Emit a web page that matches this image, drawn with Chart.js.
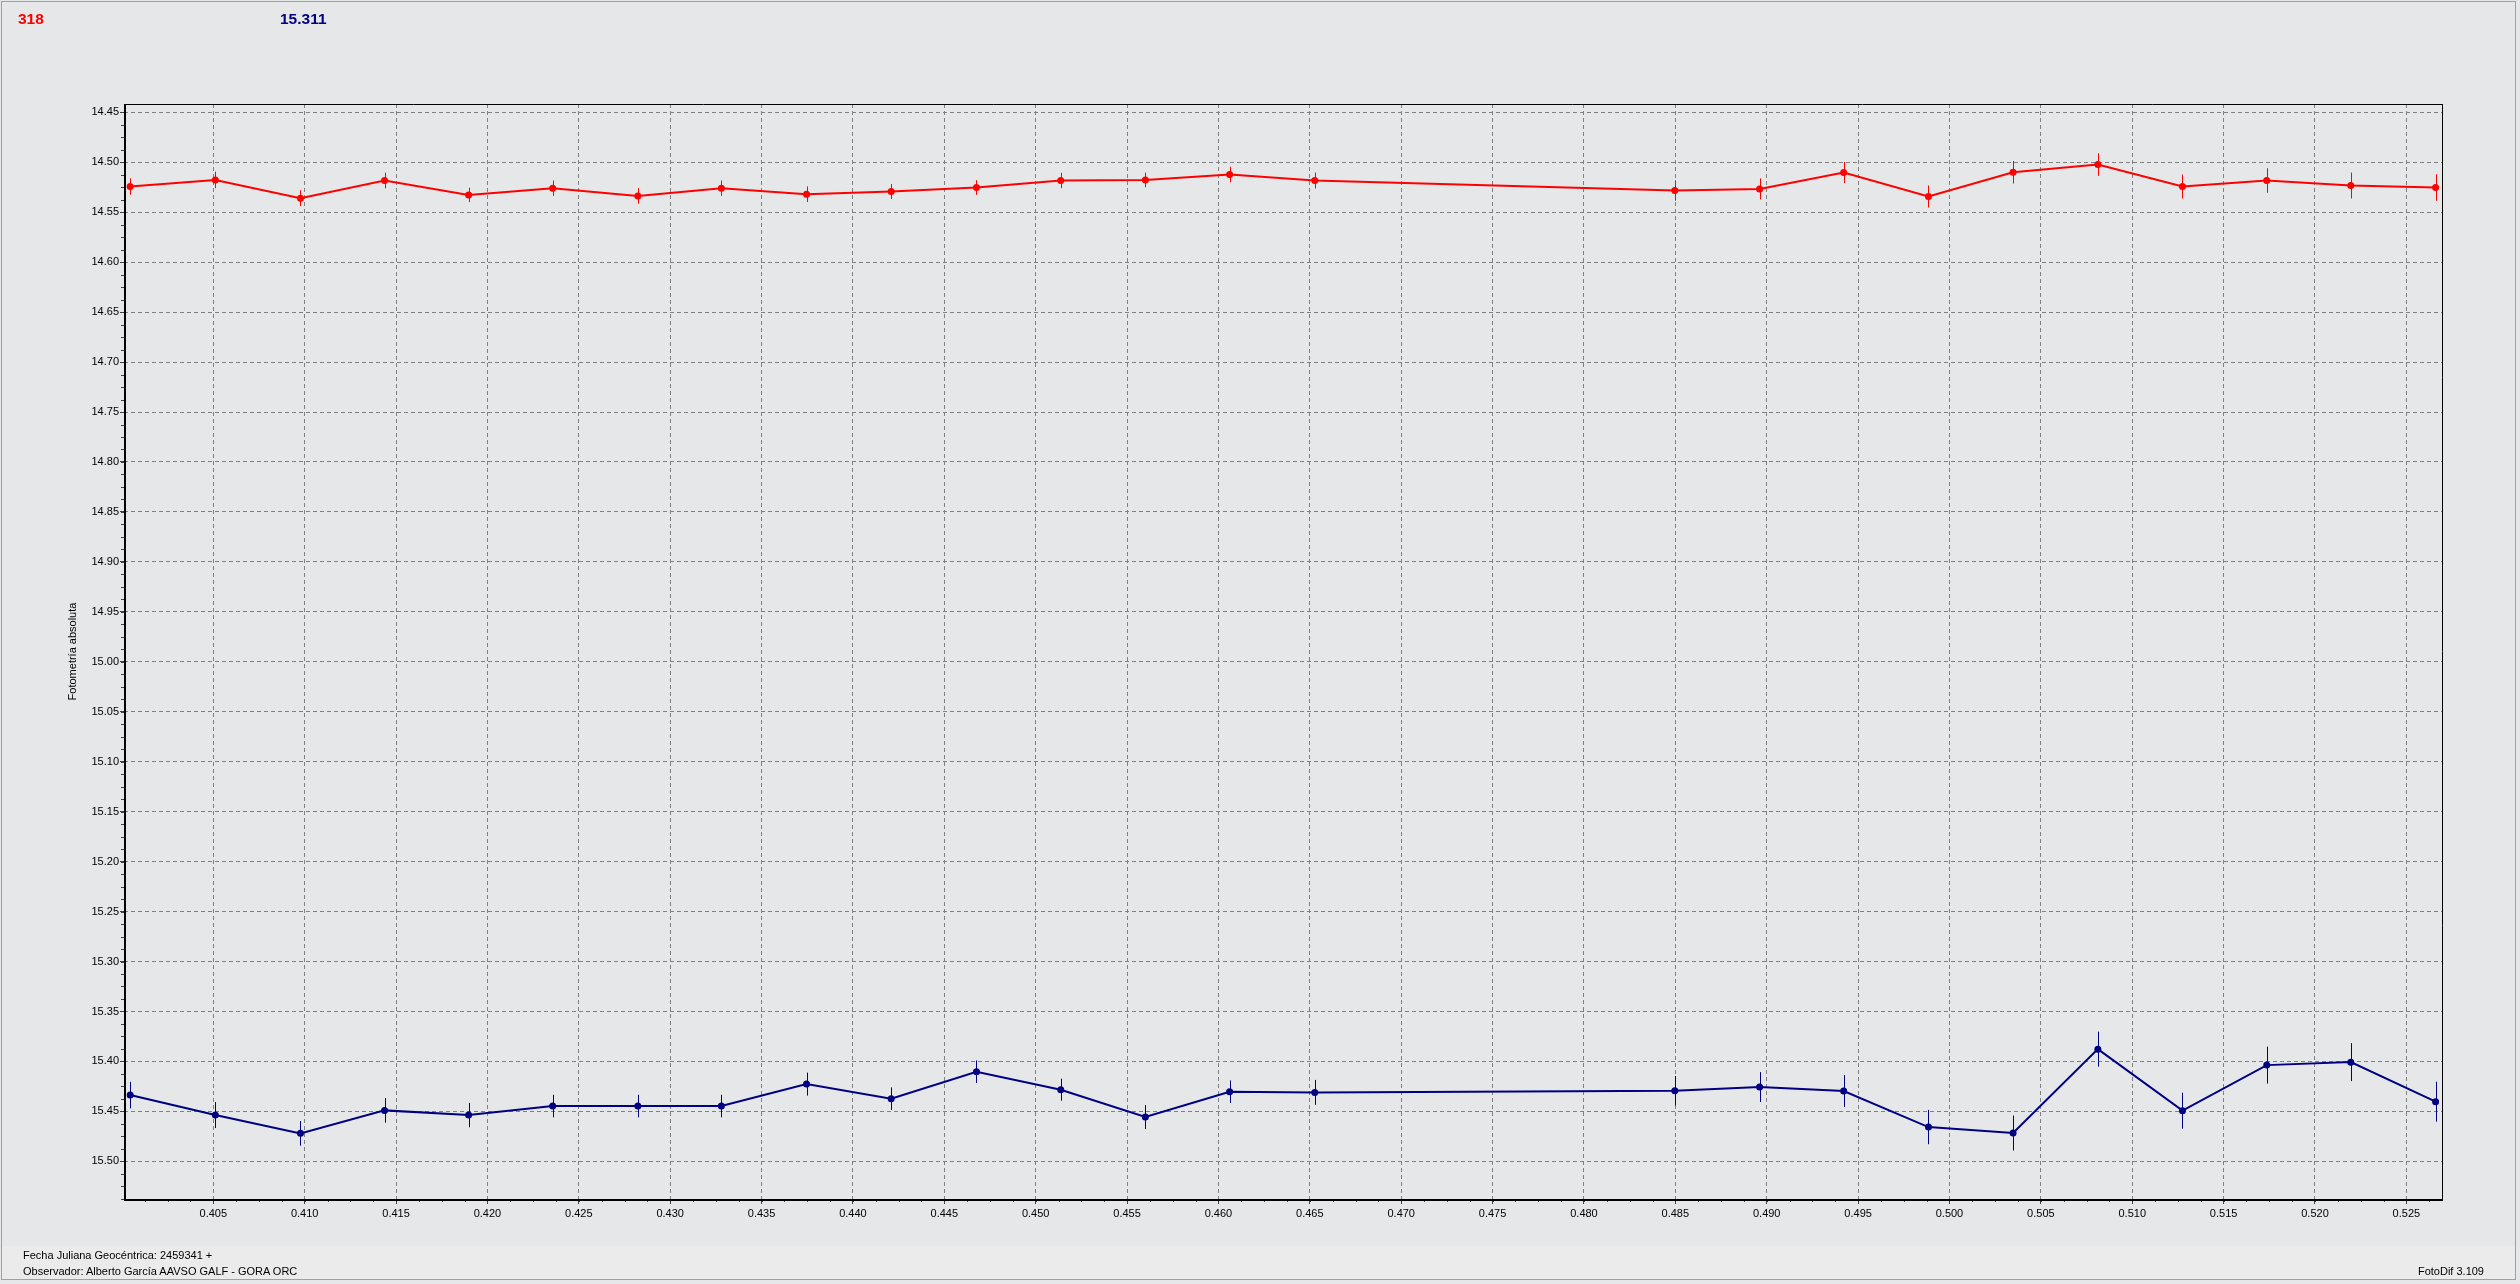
<!DOCTYPE html>
<html>
<head>
<meta charset="utf-8">
<script src="https://cdn.jsdelivr.net/npm/chart.js@4.4.1/dist/chart.umd.min.js"></script>
<style>
  html, body { margin:0; padding:0; background:#E6E7E9; width:2520px; height:1284px; overflow:hidden; font-family:"Liberation Sans", Arial, sans-serif; }
  #wrap { position:absolute; left:0; top:0; width:2520px; height:1284px; }
  .txt { position:absolute; white-space:nowrap; }
  #frame { position:absolute; left:1px; top:1px; width:2515px; height:1279px; border:1px solid #A0A0A0; box-sizing:border-box; pointer-events:none; }
  #status { position:absolute; left:2px; top:1246px; width:2514px; height:34px; background:#EBEBEC; }
</style>
</head>
<body>
<div id="status"></div>
<div id="wrap"><canvas id="c" width="2520" height="1284"></canvas></div>
<div class="txt" style="left:18px; top:10px; font-size:15.5px; line-height:18px; font-weight:bold; color:#FF0000;">318</div>
<div class="txt" style="left:280px; top:10px; font-size:15.5px; line-height:18px; font-weight:bold; color:#000080;">15.311</div>
<div class="txt" style="left:23px; top:1249px; font-size:11px; line-height:13px; color:#000;">Fecha Juliana Geocéntrica: 2459341 +</div>
<div class="txt" style="left:23px; top:1265px; font-size:11px; line-height:13px; color:#000;">Observador: Alberto García AAVSO GALF - GORA ORC</div>
<div class="txt" style="right:36px; top:1265px; font-size:11px; line-height:13px; color:#000;">FotoDif 3.109</div>
<div id="frame"></div>
<script>
// ---- data (JD fraction after 2459341) ----
const jd = [0.40045, 0.40511, 0.40977, 0.41437, 0.41897, 0.42357, 0.42823, 0.43280, 0.43746, 0.44209,
            0.44676, 0.45137, 0.45600, 0.46061, 0.46527, 0.48497, 0.48961, 0.49421, 0.49885, 0.50348,
            0.50812, 0.51275, 0.51736, 0.52196, 0.52660];
const redMag = [14.5243, 14.5177, 14.5360, 14.5183, 14.5327, 14.5260, 14.5337, 14.5260, 14.5320, 14.5293,
                14.5253, 14.5183, 14.5177, 14.5123, 14.5183, 14.5283, 14.5267, 14.5103, 14.5343, 14.5100,
                14.5023, 14.5243, 14.5183, 14.5233, 14.5253];
const redErr = [0.0082, 0.0083, 0.0080, 0.0078, 0.0072, 0.0077, 0.0078, 0.0077, 0.0078, 0.0075,
                0.0073, 0.0077, 0.0073, 0.0078, 0.0080, 0.0102, 0.0105, 0.0105, 0.0110, 0.0113,
                0.0113, 0.0120, 0.0123, 0.0130, 0.0133];
const blueMag = [15.4337, 15.4537, 15.4720, 15.4490, 15.4537, 15.4447, 15.4447, 15.4447, 15.4227, 15.4373,
                 15.4103, 15.4283, 15.4557, 15.4303, 15.4310, 15.4293, 15.4257, 15.4297, 15.4657, 15.4717,
                 15.3877, 15.4493, 15.4037, 15.4007, 15.4403];
const blueErr = [0.0133, 0.0130, 0.0123, 0.0123, 0.0122, 0.0113, 0.0113, 0.0113, 0.0115, 0.0113,
                 0.0113, 0.0110, 0.0120, 0.0113, 0.0125, 0.0147, 0.0150, 0.0160, 0.0172, 0.0175,
                 0.0175, 0.0180, 0.0185, 0.0190, 0.0200];
const xTicks = [0.405, 0.410, 0.415, 0.420, 0.425, 0.430, 0.435, 0.440, 0.445, 0.450, 0.455, 0.460,
                0.465, 0.470, 0.475, 0.480, 0.485, 0.490, 0.495, 0.500, 0.505, 0.510, 0.515, 0.520, 0.525];
const yTicks = [14.45, 14.50, 14.55, 14.60, 14.65, 14.70, 14.75, 14.80, 14.85, 14.90, 14.95, 15.00,
                15.05, 15.10, 15.15, 15.20, 15.25, 15.30, 15.35, 15.40, 15.45, 15.50];
const xRange = [0.400113, 0.52695];
const yRange = [14.4417, 15.5377];
const redColor = '#FF0000';
const blueColor = '#000080';

const toPts = (ys) => jd.map((x, i) => ({x: x, y: ys[i]}));

const errPlugin = {
  id: 'errbars',
  beforeDatasetsDraw(chart) {
    const ctx = chart.ctx, xs = chart.scales.x, ys = chart.scales.y;
    const sets = [[redMag, redErr, redColor], [blueMag, blueErr, blueColor]];
    ctx.save();
    ctx.lineWidth = 1;
    for (const [m, e, col] of sets) {
      ctx.strokeStyle = col;
      ctx.beginPath();
      for (let i = 0; i < jd.length; i++) {
        const px = Math.round(xs.getPixelForValue(jd[i])) + 0.5;
        ctx.moveTo(px, ys.getPixelForValue(m[i] - e[i]));
        ctx.lineTo(px, ys.getPixelForValue(m[i] + e[i]));
      }
      ctx.stroke();
    }
    ctx.restore();
  },
  afterDraw(chart) {
    const ctx = chart.ctx, a = chart.chartArea, xs = chart.scales.x, ys = chart.scales.y;
    ctx.save();
    ctx.strokeStyle = '#000';
    // thin top / right frame
    ctx.lineWidth = 1;
    ctx.beginPath();
    ctx.moveTo(a.left, a.top + 0.5); ctx.lineTo(a.right, a.top + 0.5);
    ctx.moveTo(a.right + 0.5, a.top); ctx.lineTo(a.right + 0.5, a.bottom);
    ctx.stroke();
    // minor ticks
    ctx.strokeStyle = '#404040';
    ctx.beginPath();
    const xStep = 0.00125, yStep = 0.0125;
    for (let k = Math.ceil(xRange[0] / xStep); k * xStep <= xRange[1]; k++) {
      const px = Math.round(xs.getPixelForValue(k * xStep)) + 0.5;
      ctx.moveTo(px, a.bottom); ctx.lineTo(px, a.bottom + 3);
    }
    for (let k = Math.ceil(yRange[0] / yStep); k * yStep <= yRange[1]; k++) {
      const py = Math.round(ys.getPixelForValue(k * yStep)) + 0.5;
      ctx.moveTo(a.left - 3, py); ctx.lineTo(a.left, py);
    }
    ctx.stroke();
    // thick left / bottom axes
    ctx.strokeStyle = '#000';
    ctx.lineWidth = 2;
    ctx.beginPath();
    ctx.moveTo(a.left + 1, a.top); ctx.lineTo(a.left + 1, a.bottom + 1);
    ctx.moveTo(a.left, a.bottom + 1); ctx.lineTo(a.right + 1, a.bottom + 1);
    ctx.stroke();
    ctx.restore();
  }
};

Chart.defaults.font.family = '"Liberation Sans", Arial, sans-serif';
Chart.defaults.font.size = 11;
Chart.defaults.color = '#000';

new Chart(document.getElementById('c'), {
  type: 'line',
  data: {
    datasets: [
      { label: '318', data: toPts(redMag), borderColor: redColor, backgroundColor: redColor,
        borderWidth: 2, pointRadius: 3.5, pointHoverRadius: 3.5, pointBorderWidth: 0, tension: 0, fill: false },
      { label: '15.311', data: toPts(blueMag), borderColor: blueColor, backgroundColor: blueColor,
        borderWidth: 2, pointRadius: 3.5, pointHoverRadius: 3.5, pointBorderWidth: 0, tension: 0, fill: false }
    ]
  },
  options: {
    responsive: false,
    animation: false,
    devicePixelRatio: 1,
    layout: { padding: { left: 62, top: 104, right: 78, bottom: 45 } },
    plugins: { legend: { display: false }, tooltip: { enabled: false }, title: { display: false } },
    scales: {
      x: {
        type: 'linear',
        min: xRange[0], max: xRange[1],
        afterBuildTicks: (s) => { s.ticks = xTicks.map(v => ({ value: v })); },
        afterFit: (s) => { s.height = 40; },
        ticks: { autoSkip: false, maxRotation: 0, padding: 3, callback: (v) => Number(v).toFixed(3), color: '#000' },
        grid: { color: '#808080', lineWidth: 1, drawTicks: true, tickLength: 5, tickColor: '#404040', tickBorderDash: [] },
        border: { display: false, dash: [4, 3] }
      },
      y: {
        type: 'linear',
        reverse: true,
        min: yRange[0], max: yRange[1],
        afterBuildTicks: (s) => { s.ticks = yTicks.map(v => ({ value: v })); },
        afterFit: (s) => { s.width = 62; },
        ticks: { autoSkip: false, padding: 1, callback: (v) => Number(v).toFixed(2), color: '#000' },
        grid: { color: '#808080', lineWidth: 1, drawTicks: true, tickLength: 4, tickColor: '#404040', tickBorderDash: [] },
        border: { display: false, dash: [4, 3] },
        title: { display: true, text: 'Fotometría absoluta', font: { size: 11 }, color: '#000', padding: 4 }
      }
    }
  },
  plugins: [errPlugin]
});
</script>
</body>
</html>
